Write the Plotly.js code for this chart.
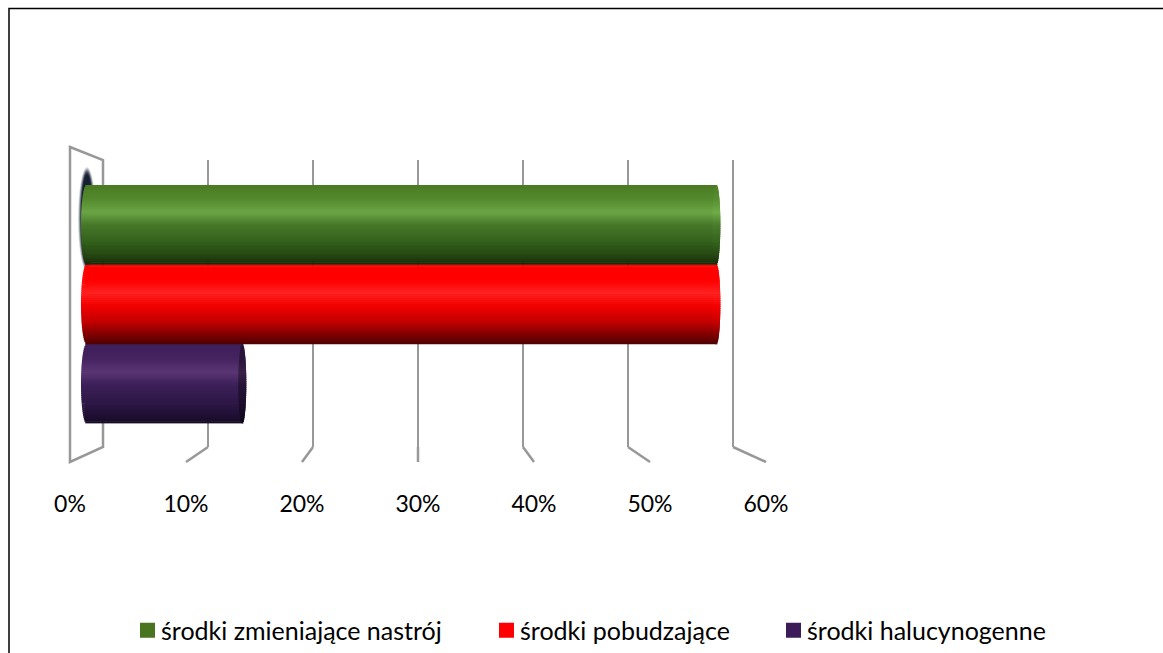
<!DOCTYPE html>
<html><head><meta charset="utf-8">
<script src="https://cdn.plot.ly/plotly-3.0.1.min.js"></script>
<style>html,body{margin:0;padding:0;background:#fff}#c{width:1163px;height:653px}</style>
</head><body><div id="c"></div>
<script>
const seriesNames = ['środki zmieniające nastrój','środki pobudzające','środki halucynogenne'];
const seriesValues = [57,57,14.1];
const legendColors = ['#4a7520','#ff0000','#3c1c58'];
const tickValues = [0,10,20,30,40,50,60];
const tickLabels = ['0%','10%','20%','30%','40%','50%','60%'];

// cylinder shading stops: [position across the bar, colour]
const shadeGreen = [[0,'#4a7a22'],[0.18,'#548a2e'],[0.35,'#6ba545'],[0.5,'#47782a'],[0.72,'#33601b'],[0.88,'#254712'],[1,'#17290a']];
const shadeRed = [[0,'#ff0000'],[0.2,'#ff0000'],[0.36,'#ff2020'],[0.52,'#f20000'],[0.72,'#c40000'],[0.88,'#820000'],[1,'#4f0000']];
const shadePurple = [[0,'#3e1f5a'],[0.18,'#45235f'],[0.36,'#5a3574'],[0.52,'#3c1f58'],[0.75,'#2c1745'],[0.9,'#1f0f33'],[1,'#150a22']];
const shades = [shadeGreen,shadeRed,shadePurple];
const endTint = [1.04,1.02,0.62];
const legendIds = ['legend','legend2','legend3'];
const legendLeft = [121,480,767];

const W=1163,H=653, px=v=>v/W, py=v=>1-v/H;
const hex=c=>[1,3,5].map(i=>parseInt(c.substr(i,2),16));
function shadeRGB(st,t){for(let i=1;i<st.length;i++){if(t<=st[i][0]){const f=(t-st[i-1][0])/(st[i][0]-st[i-1][0]);const a=hex(st[i-1][1]),b=hex(st[i][1]);return a.map((v,k)=>v+(b[k]-v)*f);}}return hex(st[st.length-1][1]);}
const rgb=(a,m=1)=>'rgb('+a.map(v=>Math.min(255,Math.round(v*m))).join(',')+')';

const idx=seriesNames.map((_,i)=>i);
const traces=[];
// back-wall subplot: holds the gridlines only
traces.push({type:'scatter',x:[],y:[],xaxis:'x',yaxis:'y',showlegend:false,hoverinfo:'skip'});
// legend carriers: solid bars under the shading
idx.forEach(i=>traces.push({type:'bar',orientation:'h',xaxis:'x2',yaxis:'y2',name:seriesNames[i],legend:legendIds[i],y:[i],x:[seriesValues[i]],width:[0.9],
  marker:{color:legendColors[i],line:{color:legendColors[i],width:3}},hoverinfo:'skip',showlegend:true}));
// stripes across the bars; the rounded ends reach slightly past the flat ends
const N=40, capL=0.5, capR=0.36;
for(let s=0;s<N;s++){
  const t=(s+0.5)/N, u=2*t-1, k=Math.sqrt(1-u*u);
  traces.push({type:'bar',orientation:'h',xaxis:'x2',yaxis:'y2',showlegend:false,hoverinfo:'skip',
    y:idx.map(i=>i-0.5+t), x:idx.map(i=>seriesValues[i]+(capL+capR)*k), base:idx.map(()=>-capL*k),
    width:idx.map(()=>1.25/N),
    marker:{color:idx.map(i=>rgb(shadeRGB(shades[i],t))),line:{width:0}}});
}
// end faces of the cylinders
for(let s=0;s<N;s++){
  const t=(s+0.5)/N, u=2*t-1, k=Math.sqrt(1-u*u);
  traces.push({type:'bar',orientation:'h',xaxis:'x2',yaxis:'y2',showlegend:false,hoverinfo:'skip',
    y:idx.map(i=>i-0.5+t), x:idx.map(()=>2*capR*k), base:idx.map(i=>seriesValues[i]-capR*k),
    width:idx.map(()=>1.25/N),
    marker:{color:idx.map(i=>rgb(shadeRGB(shades[i],t),endTint[i])),line:{width:0}}});
}
const shapes=[];
const gray='#989898';
const P=(x,y)=>`${px(x)} ${py(y)}`;
// frame
shapes.push({type:'path',xref:'paper',yref:'paper',layer:'below',path:`M ${P(9,H+3)} L ${P(9,8.5)} L ${P(W+3,8.5)}`,line:{color:'#000',width:1.5}});
// left wall
shapes.push({type:'path',xref:'paper',yref:'paper',layer:'below',path:`M ${P(70,147)} L ${P(103,160)} L ${P(103,447)} L ${P(70,462)} Z`,line:{color:gray,width:2.5}});
// floor segments from the back wall to the front edge
tickValues.slice(1).forEach(v=>shapes.push({type:'line',xref:'paper',yref:'paper',layer:'below',
  x0:px(103+10.5*v),y0:py(447),x1:px(70+11.6*v),y1:py(462),line:{color:gray,width:2.5}}));
// soft dark shadow behind the green bar's base
[[9,52,0.1],[8.5,51,0.14],[8,50,0.18],[7.5,49,0.24],[7,48,0.32],[6.5,47,0.45],[6,45,0.7]].forEach(([rx,ry,o])=>shapes.push({type:'circle',xref:'paper',yref:'paper',layer:'below',
  x0:px(87-rx),x1:px(87+rx),y0:py(219-ry),y1:py(219+ry),fillcolor:'#0a1428',opacity:o,line:{width:0}}));

const font='Lato, Carlito, Calibri, sans-serif';
const legendBase=i=>({orientation:'v',x:px(legendLeft[i]),xanchor:'left',y:py(630.5),yanchor:'middle',font:{family:font,size:25,color:'#000'},bgcolor:'rgba(0,0,0,0)',itemclick:false,itemdoubleclick:false});
const layout={width:W,height:H,margin:{l:0,r:0,t:0,b:0,autoexpand:false},paper_bgcolor:'#fff',plot_bgcolor:'rgba(0,0,0,0)',
  barmode:'overlay',showlegend:true,
  font:{family:font,color:'#000',size:23},
  // back wall with its gridlines
  xaxis:{domain:[px(103-10.5),px(733+10.5)],range:[-1,61],anchor:'y',tickmode:'array',tickvals:tickValues,showticklabels:false,ticks:'',showline:false,zeroline:false,showgrid:true,gridcolor:gray,gridwidth:2.5},
  yaxis:{domain:[py(447),py(160)],range:[0,1],anchor:'x',showticklabels:false,ticks:'',showgrid:false,zeroline:false,showline:false},
  // plane of the bars
  xaxis2:{domain:[px(86.5-22.1),px(749.5)],range:[-2,60],anchor:'y2',visible:false},
  yaxis2:{domain:[py(423.5),py(185)],range:[2.5,-0.5],anchor:'x2',visible:false},
  // front edge carrying the tick labels
  xaxis3:{domain:[px(70),px(766)],range:[0,60],anchor:'free',position:py(488),side:'bottom',tickmode:'array',tickvals:tickValues,ticktext:tickLabels,ticks:'',showgrid:false,zeroline:false,showline:false,tickfont:{family:font,size:23,color:'#000'}},
  yaxis3:{domain:[py(462),py(447)],range:[0,1],anchor:'x3',visible:false},
  legend:legendBase(0),legend2:legendBase(1),legend3:legendBase(2),
  shapes:shapes
};
traces.push({type:'scatter',x:[],y:[],xaxis:'x3',yaxis:'y3',showlegend:false,hoverinfo:'skip'});
Plotly.newPlot('c',traces,layout,{staticPlot:true,displayModeBar:false}).then(()=>{
  document.querySelectorAll('.legendsymbols').forEach(g=>g.setAttribute('transform','translate(6.5,0)'));
});
</script></body></html>
